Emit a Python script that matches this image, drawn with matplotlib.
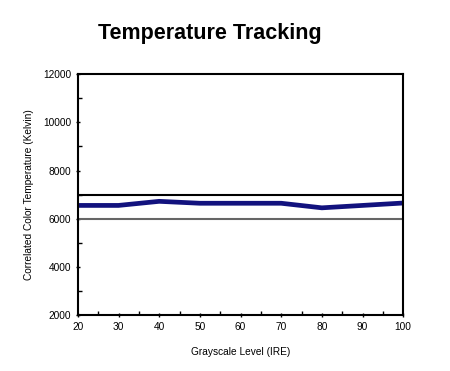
import matplotlib
matplotlib.use("Agg")
import matplotlib.pyplot as plt
from matplotlib.ticker import MultipleLocator

ire = [20, 30, 40, 50, 60, 70, 80, 90, 100]
kelvin = [6550, 6550, 6720, 6640, 6640, 6640, 6450, 6550, 6650]
upper_limit = 7000
lower_limit = 6000

plt.rcParams['font.family'] = ['Liberation Sans', 'DejaVu Sans']

fig = plt.figure(figsize=(4.5, 3.71), dpi=100)
ax = fig.add_axes([0.173, 0.151, 0.723, 0.649])

ax.axhline(upper_limit, color='black', lw=1.5)
ax.axhline(lower_limit, color='#666666', lw=1.5)
ax.plot(ire, kelvin, color='#12127e', lw=3.4)

ax.set_xlim(20, 100)
ax.set_ylim(2000, 12000)
ax.xaxis.set_major_locator(MultipleLocator(10))
ax.xaxis.set_minor_locator(MultipleLocator(5))
ax.yaxis.set_major_locator(MultipleLocator(2000))
ax.yaxis.set_minor_locator(MultipleLocator(1000))
ax.tick_params(axis='both', which='major', labelsize=7.3, length=3, width=1, direction='inout')
ax.tick_params(axis='both', which='minor', length=3, width=1, direction='in')
for s in ax.spines.values():
    s.set_linewidth(1.5)

ax.set_xlabel("Grayscale Level (IRE)", fontsize=7.3, labelpad=11)
ax.set_ylabel("Correlated Color Temperature (Kelvin)", fontsize=7.3, labelpad=6)
fig.text(0.467, 0.91, "Temperature Tracking", fontsize=15.5, fontweight='bold', ha='center', va='center')

fig.savefig('out.png', dpi=100)
